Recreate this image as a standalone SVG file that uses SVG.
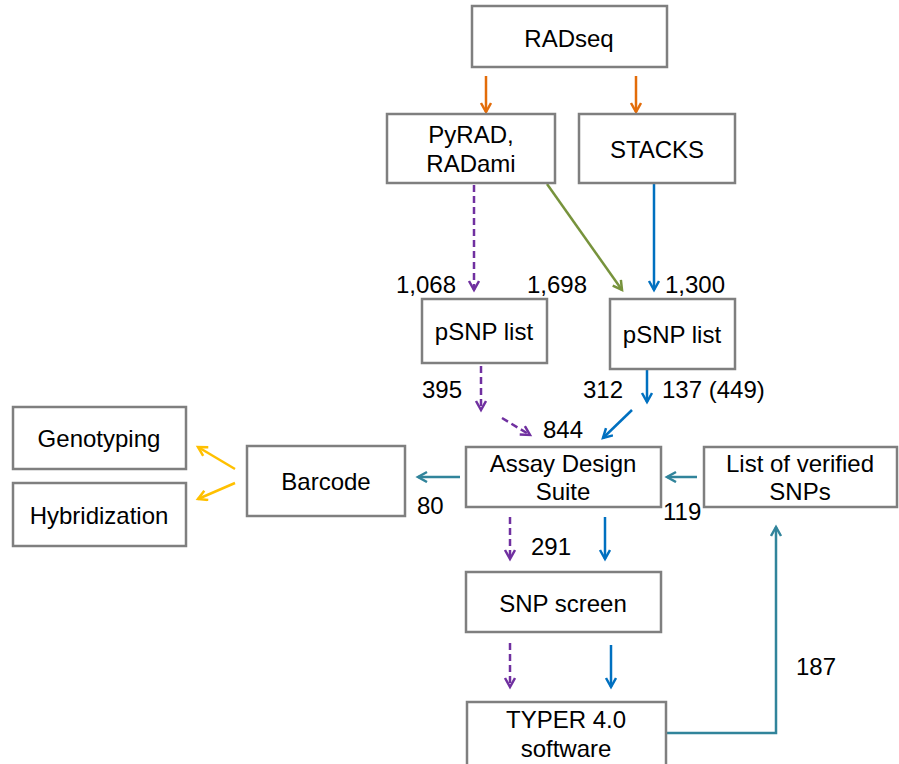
<svg xmlns="http://www.w3.org/2000/svg" width="899" height="764" viewBox="0 0 899 764">
<style>
.box{fill:#fff;stroke:#7f7f7f;stroke-width:2.5}
text{font-family:"Liberation Sans",Arial,sans-serif;font-size:24px;fill:#000}
.c{text-anchor:middle}
.ln{fill:none;stroke-width:2.5}
.or{stroke:#E36C09}.pu{stroke:#7030A0;stroke-dasharray:7,4}.gr{stroke:#77933C}.bl{stroke:#0070C0}.te{stroke:#31849B}.ye{stroke:#FFC000}
</style>
<defs>
<marker id="mor" markerUnits="userSpaceOnUse" markerWidth="14" markerHeight="14" refX="10" refY="6" orient="auto"><path d="M1,1 L10,6 L1,11" fill="none" stroke="#E36C09" stroke-width="2.5"/></marker>
<marker id="mpu" markerUnits="userSpaceOnUse" markerWidth="14" markerHeight="14" refX="10" refY="6" orient="auto"><path d="M1,1 L10,6 L1,11" fill="none" stroke="#7030A0" stroke-width="2.5"/></marker>
<marker id="mgr" markerUnits="userSpaceOnUse" markerWidth="14" markerHeight="14" refX="10" refY="6" orient="auto"><path d="M1,1 L10,6 L1,11" fill="none" stroke="#77933C" stroke-width="2.5"/></marker>
<marker id="mbl" markerUnits="userSpaceOnUse" markerWidth="14" markerHeight="14" refX="10" refY="6" orient="auto"><path d="M1,1 L10,6 L1,11" fill="none" stroke="#0070C0" stroke-width="2.5"/></marker>
<marker id="mte" markerUnits="userSpaceOnUse" markerWidth="14" markerHeight="14" refX="10" refY="6" orient="auto"><path d="M1,1 L10,6 L1,11" fill="none" stroke="#31849B" stroke-width="2.5"/></marker>
<marker id="mye" markerUnits="userSpaceOnUse" markerWidth="14" markerHeight="14" refX="10" refY="6" orient="auto"><path d="M1,1 L10,6 L1,11" fill="none" stroke="#FFC000" stroke-width="2.5"/></marker>
</defs>
<rect width="899" height="764" fill="#fff"/>

<g id="connectors">
<line class="ln or" x1="486" y1="76" x2="486" y2="112" marker-end="url(#mor)"/>
<line class="ln or" x1="636" y1="76" x2="636" y2="112" marker-end="url(#mor)"/>
<line class="ln pu" x1="474" y1="185" x2="474" y2="290" marker-end="url(#mpu)"/>
<line class="ln gr" x1="547" y1="184" x2="622" y2="290" marker-end="url(#mgr)"/>
<line class="ln bl" x1="654" y1="184" x2="654" y2="290" marker-end="url(#mbl)"/>
<line class="ln pu" x1="481" y1="366" x2="481" y2="410" marker-end="url(#mpu)"/>
<line class="ln bl" x1="647" y1="368" x2="647" y2="402" marker-end="url(#mbl)"/>
<line class="ln pu" x1="502" y1="418" x2="530" y2="435" marker-end="url(#mpu)"/>
<line class="ln bl" x1="632" y1="410" x2="603" y2="438" marker-end="url(#mbl)"/>
<line class="ln te" x1="697" y1="477" x2="667" y2="477" marker-end="url(#mte)"/>
<line class="ln te" x1="460" y1="477" x2="418" y2="477" marker-end="url(#mte)"/>
<line class="ln ye" x1="235" y1="469" x2="198" y2="447" marker-end="url(#mye)"/>
<line class="ln ye" x1="235" y1="483" x2="198" y2="499" marker-end="url(#mye)"/>
<line class="ln pu" x1="510" y1="517" x2="510" y2="559" marker-end="url(#mpu)"/>
<line class="ln bl" x1="605" y1="517" x2="605" y2="559" marker-end="url(#mbl)"/>
<line class="ln pu" x1="510" y1="643" x2="510" y2="687" marker-end="url(#mpu)"/>
<line class="ln bl" x1="611" y1="645" x2="611" y2="687" marker-end="url(#mbl)"/>
<polyline class="ln te" points="666,733 776,733 776,527" marker-end="url(#mte)"/>
</g>

<g id="radseq"><rect class="box" x="472" y="6" width="195" height="61"/><text class="c" x="569" y="47">RADseq</text></g>
<g id="pyrad"><rect class="box" x="387" y="114" width="168" height="69"/><text class="c" x="471" y="143">PyRAD,</text><text class="c" x="471" y="172">RADami</text></g>
<g id="stacks"><rect class="box" x="579" y="114" width="156" height="69"/><text class="c" x="657" y="158">STACKS</text></g>
<g id="psnp1"><rect class="box" x="422" y="299" width="125" height="64"/><text class="c" x="484" y="340">pSNP list</text></g>
<g id="psnp2"><rect class="box" x="610" y="299" width="125" height="70"/><text class="c" x="672" y="343">pSNP list</text></g>
<g id="ads"><rect class="box" x="466" y="447" width="195" height="60"/><text class="c" x="563" y="472">Assay Design</text><text class="c" x="563" y="500">Suite</text></g>
<g id="verified"><rect class="box" x="704" y="447" width="193" height="60"/><text class="c" x="800" y="472">List of verified</text><text class="c" x="800" y="500">SNPs</text></g>
<g id="barcode"><rect class="box" x="247" y="446" width="158" height="70"/><text class="c" x="326" y="490">Barcode</text></g>
<g id="genotyping"><rect class="box" x="13" y="407" width="173" height="62"/><text class="c" x="99" y="447">Genotyping</text></g>
<g id="hybridization"><rect class="box" x="13" y="483" width="173" height="63"/><text class="c" x="99" y="524">Hybridization</text></g>
<g id="snpscreen"><rect class="box" x="466" y="572" width="195" height="60"/><text class="c" x="563" y="612">SNP screen</text></g>
<g id="typer"><rect class="box" x="467" y="702" width="199" height="70"/><text class="c" x="566" y="728">TYPER 4.0</text><text class="c" x="566" y="757">software</text></g>

<g id="labels">
<text x="396" y="293">1,068</text>
<text x="527" y="293">1,698</text>
<text x="665" y="293">1,300</text>
<text x="422" y="398">395</text>
<text x="583" y="398">312</text>
<text x="662" y="398">137 (449)</text>
<text x="543" y="438">844</text>
<text x="417" y="514">80</text>
<text x="663" y="520">119</text>
<text x="531" y="555">291</text>
<text x="796" y="675">187</text>
</g>
</svg>
